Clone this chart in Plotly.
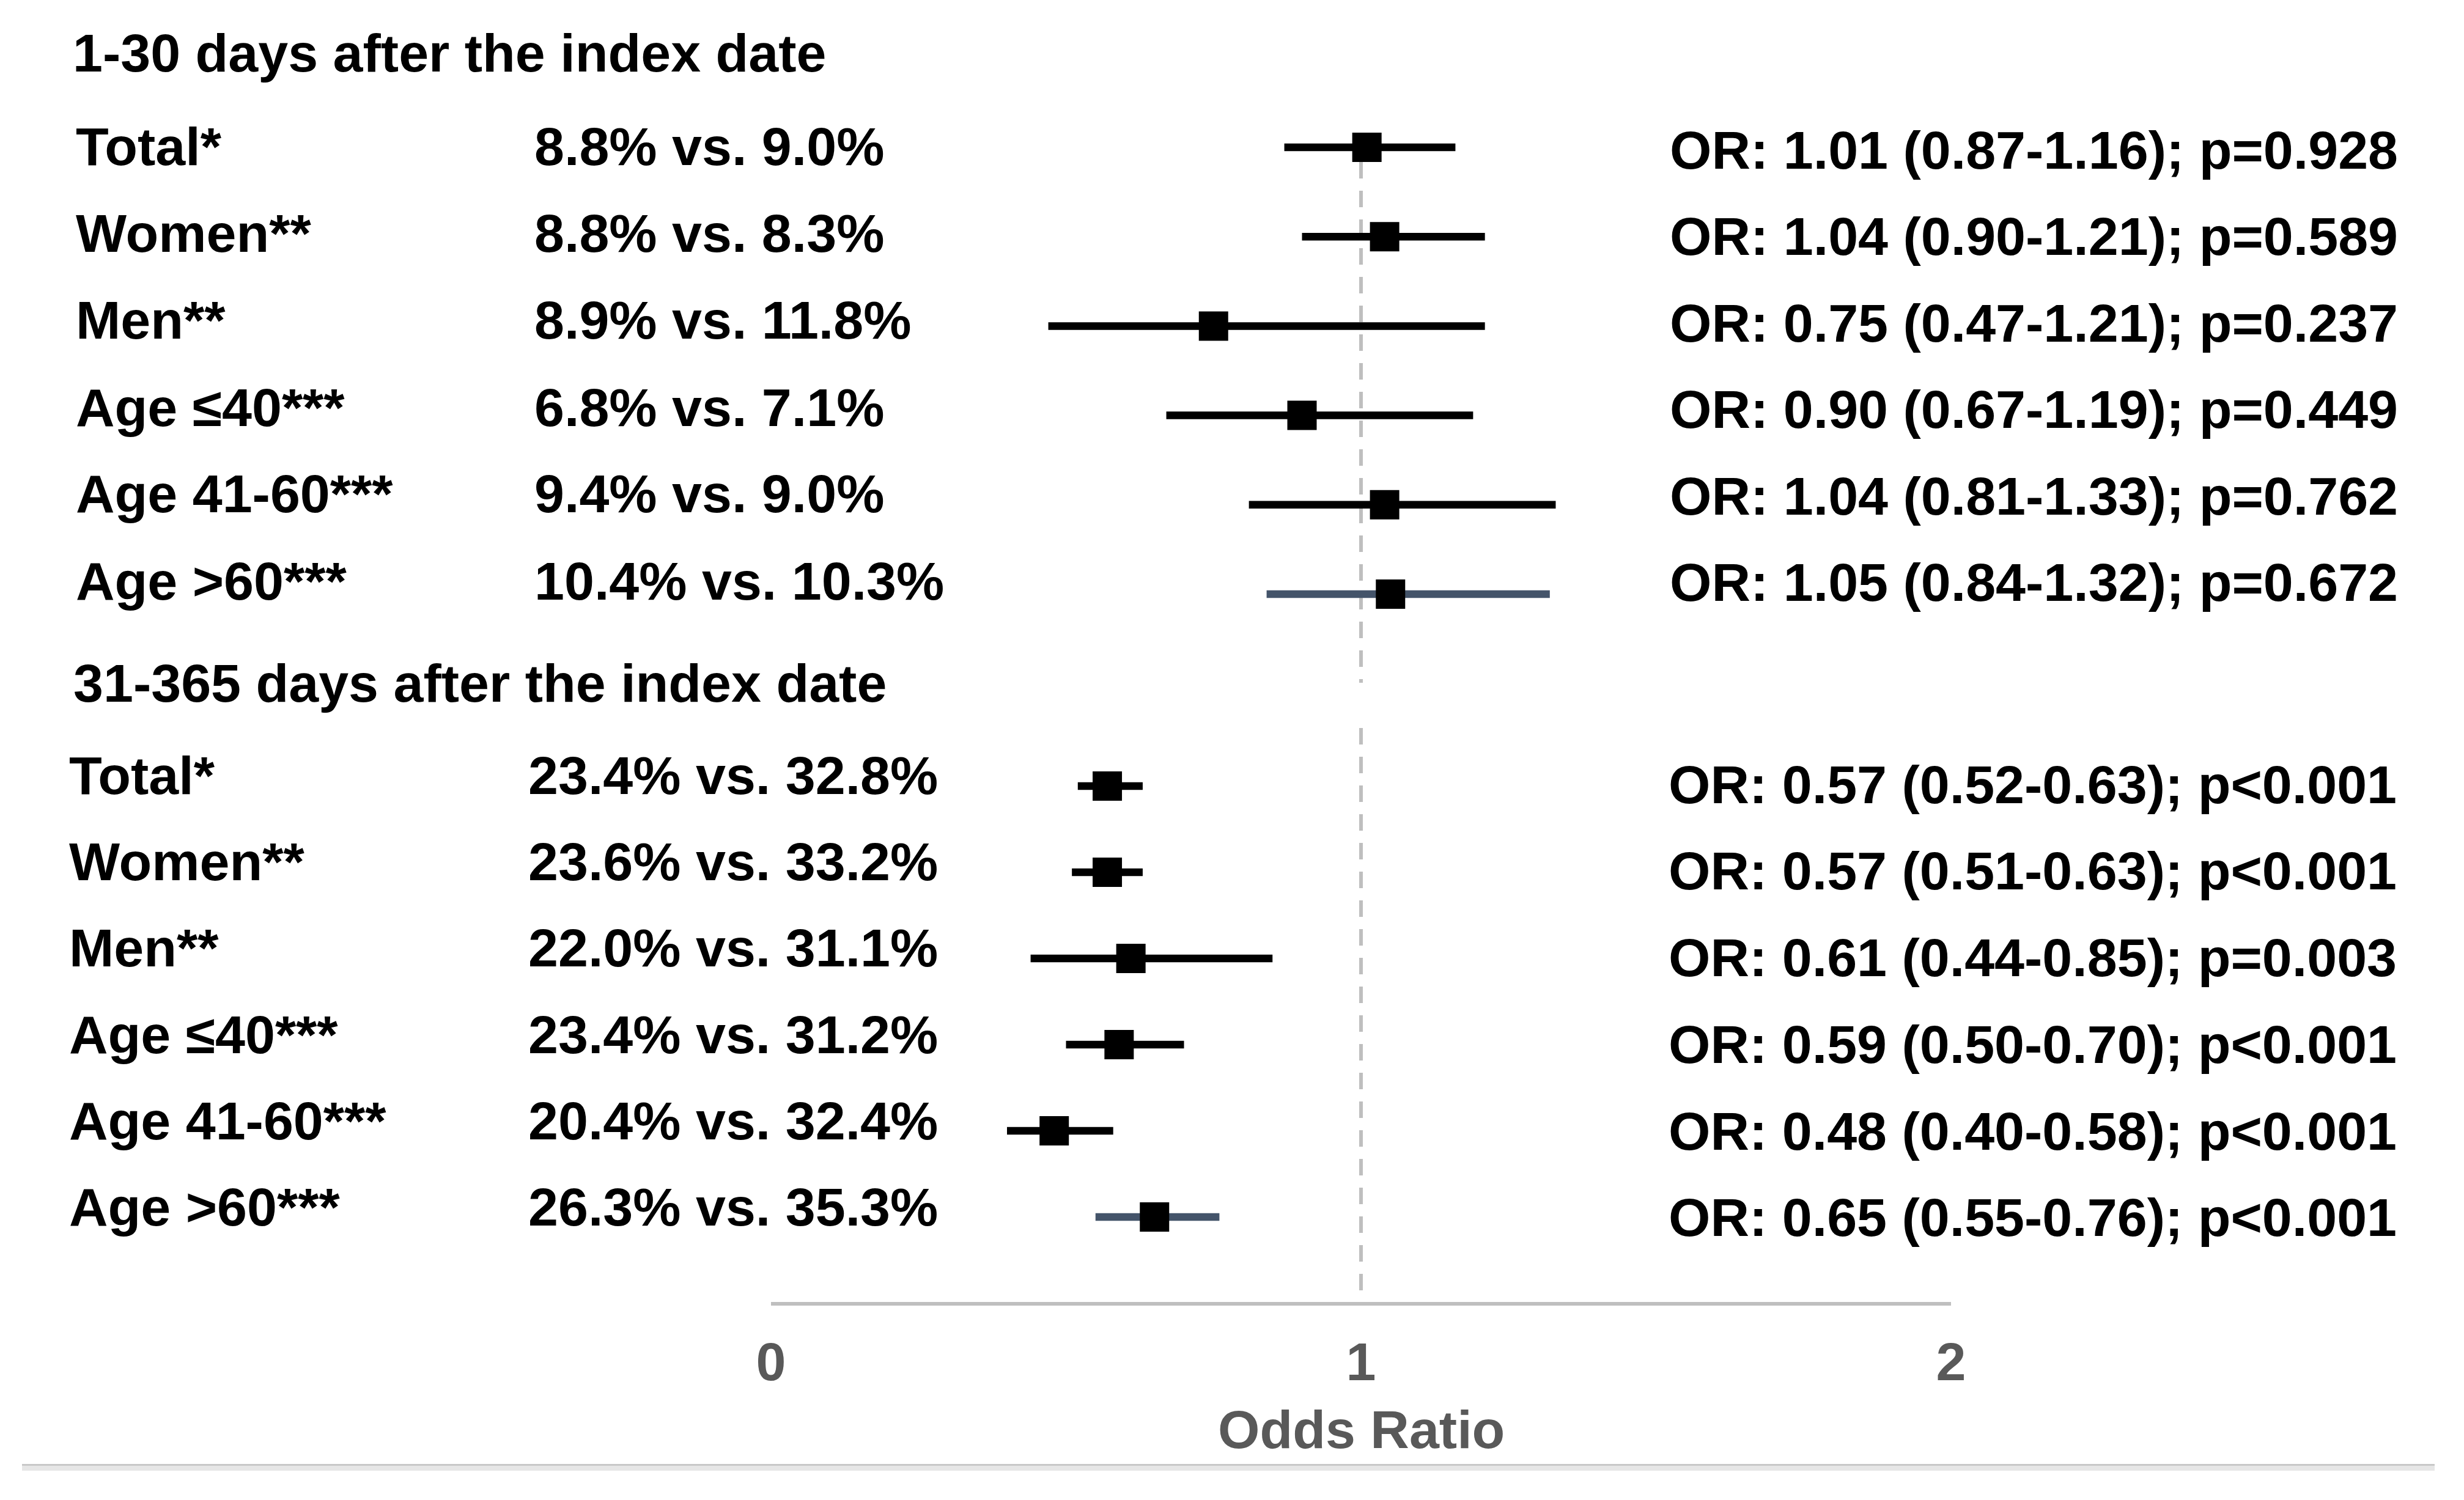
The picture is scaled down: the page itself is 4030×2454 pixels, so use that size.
import plotly.graph_objects as go

# ---------------- data ----------------
categories = ["Total*", "Women**", "Men**", "Age ≤40***", "Age 41-60***", "Age >60***"]

header_30 = "1-30 days after the index date"
pct_30 = ["8.8% vs. 9.0%", "8.8% vs. 8.3%", "8.9% vs. 11.8%",
          "6.8% vs. 7.1%", "9.4% vs. 9.0%", "10.4% vs. 10.3%"]
or_30 = [1.01, 1.04, 0.75, 0.90, 1.04, 1.05]
lo_30 = [0.87, 0.90, 0.47, 0.67, 0.81, 0.84]
hi_30 = [1.16, 1.21, 1.21, 1.19, 1.33, 1.32]
p_30 = ["p=0.928", "p=0.589", "p=0.237", "p=0.449", "p=0.762", "p=0.672"]

header_365 = "31-365 days after the index date"
pct_365 = ["23.4% vs. 32.8%", "23.6% vs. 33.2%", "22.0% vs. 31.1%",
           "23.4% vs. 31.2%", "20.4% vs. 32.4%", "26.3% vs. 35.3%"]
or_365 = [0.57, 0.57, 0.61, 0.59, 0.48, 0.65]
lo_365 = [0.52, 0.51, 0.44, 0.50, 0.40, 0.55]
hi_365 = [0.63, 0.63, 0.85, 0.70, 0.58, 0.76]
p_365 = ["p<0.001", "p<0.001", "p=0.003", "p<0.001", "p<0.001", "p<0.001"]

x_ticks = [0, 1, 2]
x_title = "Odds Ratio"
ref_value = 1

# ---------------- layout constants ----------------
W, H = 4030, 2454
OFF = 8  # page body offset
FONT = "Liberation Sans, Arial, sans-serif"
FS = 88
BLACK = "#000000"
SLATE = "#44546A"
GRID = "#BFBFBF"
TICKC = "#595959"
ci_colors = [BLACK, BLACK, BLACK, BLACK, BLACK, SLATE]


def py(p):
    return 1 - (p - OFF) / H


def px(p):
    return (p - OFF) / W


X0_PX, X2_PX = 1261, 3191
AXIS_PX = 2133

# marker row geometry (pixels)
top_first, top_step = 241, 146.2
bot_first, bot_step = 1286, 141.0
n = len(categories)

fig = go.Figure()

sections = [
    dict(or_=or_30, lo=lo_30, hi=hi_30, yaxis="y"),
    dict(or_=or_365, lo=lo_365, hi=hi_365, yaxis="y2"),
]
for sec in sections:
    for i in range(n):
        fig.add_trace(go.Scatter(
            x=[sec["or_"][i]], y=[i], yaxis=sec["yaxis"], xaxis="x",
            mode="markers",
            marker=dict(symbol="square", size=48, color=BLACK, line=dict(width=0)),
            error_x=dict(type="data", symmetric=False,
                         array=[sec["hi"][i] - sec["or_"][i]],
                         arrayminus=[sec["or_"][i] - sec["lo"][i]],
                         color=ci_colors[i], thickness=12.5, width=0),
            showlegend=False, hoverinfo="skip",
        ))

annotations = []


def add_text(text, x_px, y_px, color=BLACK, xanchor="left", xref="paper", x=None):
    annotations.append(dict(
        text=text, xref=xref, yref="paper",
        x=px(x_px) if x is None else x, y=py(y_px),
        xanchor=xanchor, yanchor="middle", showarrow=False,
        font=dict(family=FONT, size=FS, color=color, weight="bold"),
    ))


# headers
add_text(header_30, 117, 87)
add_text(header_365, 118, 1118)

# top section texts
for i in range(n):
    ty = 240 + 142.0 * i
    add_text(categories[i], 122, ty)
    add_text(pct_30[i], 872, ty)
    oy = 245.5 + 141.5 * i
    add_text(f"OR: {or_30[i]:.2f} ({lo_30[i]:.2f}-{hi_30[i]:.2f}); {p_30[i]}", 2729, oy)

# bottom section texts
for i in range(n):
    ty = 1268 + 141.4 * i
    add_text(categories[i], 111, ty)
    add_text(pct_365[i], 862, ty)
    oy = 1283 + 141.8 * i
    add_text(f"OR: {or_365[i]:.2f} ({lo_365[i]:.2f}-{hi_365[i]:.2f}); {p_365[i]}", 2727, oy)

# axis title
add_text(x_title, 0, 2338, color=TICKC, xanchor="center", xref="x", x=ref_value)

shapes = [
    # reference dashed line (two segments)
    dict(type="line", xref="x", yref="paper", x0=ref_value, x1=ref_value,
         y0=py(218), y1=py(1117), line=dict(color=GRID, width=6, dash="27px,20px"),
         layer="below"),
    dict(type="line", xref="x", yref="paper", x0=ref_value, x1=ref_value,
         y0=py(1191), y1=py(AXIS_PX), line=dict(color=GRID, width=6, dash="27px,20px"),
         layer="below"),
    # bottom border
    dict(type="rect", xref="paper", yref="paper", x0=px(36), x1=px(3982),
         y0=py(2398), y1=py(2395), fillcolor="#C8C8C8", line=dict(width=0)),
    dict(type="rect", xref="paper", yref="paper", x0=px(36), x1=px(3982),
         y0=py(2406), y1=py(2398), fillcolor="#E6E6E6", line=dict(width=0)),
]

fig.update_layout(
    width=W, height=H,
    margin=dict(l=0, r=0, t=0, b=0, autoexpand=False),
    paper_bgcolor="white", plot_bgcolor="white",
    showlegend=False,
    xaxis=dict(
        domain=[px(X0_PX), px(X2_PX)], range=[0, 2],
        anchor="free", position=py(AXIS_PX), automargin=False,
        showline=True, linecolor=GRID, linewidth=6,
        showgrid=False, zeroline=False,
        tickmode="array", tickvals=x_ticks, ticktext=[str(t) for t in x_ticks],
        ticks="outside", ticklen=16, tickcolor="rgba(0,0,0,0)", tickwidth=1,
        tickfont=dict(family=FONT, size=FS, color=TICKC, weight="bold"),
        fixedrange=True,
    ),
    yaxis=dict(
        domain=[py(top_first + top_step * (n - 0.5)), py(top_first - top_step * 0.5)],
        range=[n - 0.5, -0.5], visible=False, showgrid=False, zeroline=False,
        automargin=False, fixedrange=True,
    ),
    yaxis2=dict(
        domain=[py(bot_first + bot_step * (n - 0.5)), py(bot_first - bot_step * 0.5)],
        range=[n - 0.5, -0.5], visible=False, showgrid=False, zeroline=False,
        anchor="x", automargin=False, fixedrange=True,
    ),
    annotations=annotations,
    shapes=shapes,
)

fig.write_html("out.html")
